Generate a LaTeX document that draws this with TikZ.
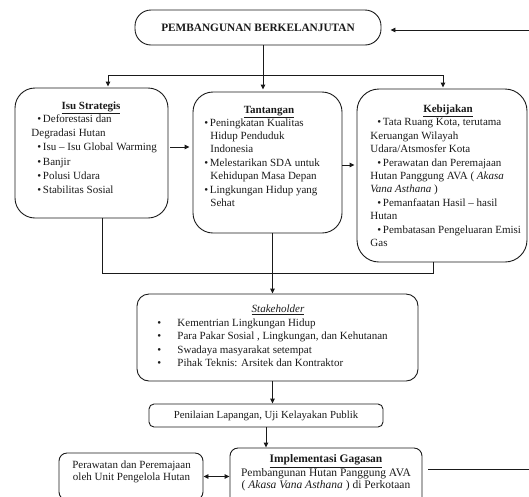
\documentclass[tikz,border=0pt]{standalone}
\usepackage{fontspec}
\setmainfont{Liberation Serif}
\usepackage{xcolor}
\usetikzlibrary{arrows.meta}
\definecolor{garis}{HTML}{1A1A1A}
\newcommand{\bul}[1][5.5pt]{\makebox[#1][l]{\textbullet}}

\tikzset{
  kotak/.style={draw=garis, line width=0.9pt, rounded corners=#1},
  kotak/.default=14pt,
  isi/.style={inner sep=0pt, align=left, anchor=base west, text=garis},
  judul/.style={inner sep=0pt, anchor=base, text=garis, font=\fontsize{11}{13}\selectfont\bfseries},
}

\begin{document}
\begin{tikzpicture}[x=1pt, y=-1pt, line width=0.9pt, >={Triangle[length=5pt,width=4.5pt]}]
  \clip (0,0) rectangle (529,496);

  % kotak-kotak
  \node[kotak=16pt, minimum width=246pt, minimum height=35pt] (pemb) at (258,27.5) {};
  \node[kotak=20pt, minimum width=153pt, minimum height=130pt] (isu) at (91.5,153) {};
  \node[kotak=20pt, minimum width=149pt, minimum height=141pt] (tant) at (267.5,162.5) {};
  \node[kotak=22pt, minimum width=170pt, minimum height=173pt] (kebij) at (442,175.5) {};
  \node[kotak=12pt, minimum width=281pt, minimum height=87pt] (stake) at (277.5,337.5) {};
  \node[kotak=5pt, minimum width=234pt, minimum height=23pt] (nilai) at (266,415.5) {};
  \node[kotak=8pt, minimum width=192pt, minimum height=57pt] (impl) at (326,476.5) {};
  \node[kotak=8pt, minimum width=144pt, minimum height=47pt] (rawat) at (131,476.5) {};

  % teks (base = baris terakhir)
  \node[inner sep=0pt, text=garis, font=\fontsize{11.3}{13}\selectfont\bfseries] (pembT) at (258,27.5) {PEMBANGUNAN BERKELANJUTAN};

  \node[judul] (isuJ) at (91,109.5) {\underline{Isu Strategis}};
  \node[isi, font=\fontsize{11}{14.2}\selectfont] (isuL) at (31,193.5) {%
    \hspace*{6pt}\bul Deforestasi dan\\
    Degradasi Hutan\\
    \hspace*{6pt}\bul Isu -- Isu Global Warming\\
    \hspace*{6pt}\bul Banjir\\
    \hspace*{6pt}\bul Polusi Udara\\
    \hspace*{6pt}\bul Stabilitas Sosial};

  \node[judul] (tantJ) at (269,113.5) {\underline{Tantangan}};
  \node[isi, font=\fontsize{11}{13.4}\selectfont] (tantL) at (204,206.5) {%
    \bul Peningkatan Kualitas\\
    \hspace*{6pt}Hidup Penduduk\\
    \hspace*{6pt}Indonesia\\
    \bul Melestarikan SDA untuk\\
    \hspace*{6pt}Kehidupan Masa Depan\\
    \bul Lingkungan Hidup yang\\
    \hspace*{6pt}Sehat};

  \node[judul] (kebijJ) at (448,112.5) {\underline{Kebijakan}};
  \node[isi, font=\fontsize{11}{13.4}\selectfont] (kebijL) at (370,246.5) {%
    \hspace*{7pt}\bul Tata Ruang Kota, terutama\\
    Keruangan Wilayah\\
    Udara/Atsmosfer Kota\\
    \hspace*{7pt}\bul Perawatan dan Peremajaan\\
    Hutan Panggung AVA ( \textit{Akasa}\\
    \textit{Vana Asthana} )\\
    \hspace*{7pt}\bul Pemanfaatan Hasil -- hasil\\
    Hutan\\
    \hspace*{7pt}\bul Pembatasan Pengeluaran Emisi\\
    Gas};

  \node[inner sep=0pt, anchor=base, text=garis, font=\fontsize{11}{13}\selectfont\itshape] (stakeJ) at (278,312.5) {\underline{Stakeholder}};
  \node[isi, font=\fontsize{11}{13.3}\selectfont] (stakeL) at (157,366.5) {%
    \bul[20pt]Kementrian Lingkungan Hidup\\
    \bul[20pt]Para Pakar Sosial , Lingkungan, dan Kehutanan\\
    \bul[20pt]Swadaya masyarakat setempat\\
    \bul[20pt]Pihak Teknis: Arsitek dan Kontraktor};

  \node[inner sep=0pt, text=garis, font=\fontsize{10.8}{12}\selectfont] (nilaiT) at (266,415.5) {Penilaian Lapangan, Uji Kelayakan Publik};

  \node[inner sep=0pt, align=center, text=garis, font=\fontsize{11.5}{12.5}\selectfont] (implT) at (326,473) {%
    \textbf{\underline{Implementasi Gagasan}}\\
    Pembangunan Hutan Panggung AVA\\
    ( \textit{Akasa Vana Asthana} ) di Perkotaan};

  \node[inner sep=0pt, align=center, text=garis, font=\fontsize{11}{12}\selectfont] (rawatT) at (131.5,472) {%
    Perawatan dan Peremajaan\\
    oleh Unit Pengelola Hutan};

  % panah atas
  \coordinate (fbA) at (529,30);
  \coordinate (cab) at (263,75);
  \coordinate (kiri) at (108,75);
  \coordinate (kanan) at (443,75);
  \draw[garis, ->, shorten >=9pt] (fbA) -- (fbA -| pemb.east);
  \draw[garis, ->, shorten >=2pt] (cab |- pemb.south) -- (cab |- tant.north);
  \draw[garis] (kiri) -- (kanan);
  \draw[garis, ->, shorten >=1pt] (kiri) -- (kiri |- isu.north);
  \draw[garis, ->, shorten >=1pt] (kanan) -- (kanan |- kebij.north);

  % panah samping
  \draw[garis, ->, shorten <=2pt, shorten >=3pt] ([yshift=6pt]isu.east) -- ([yshift=15.5pt]tant.west);
  \draw[garis, ->, shorten >=2pt] ([yshift=-2.5pt]tant.east) -- ([yshift=10.5pt]kebij.west);

  % garis bawah
  \coordinate (bkiri) at (102,273);
  \coordinate (bkanan) at (433,273);
  \coordinate (btengah) at (272.5,273);
  \draw[garis] (bkiri |- isu.south) -- (bkiri) -- (bkanan) -- (bkanan |- kebij.south);
  \draw[garis, ->] (btengah |- tant.south) -- (btengah |- stake.north);
  \draw[garis, ->] (btengah |- stake.south) -- (btengah |- nilai.north);
  \draw[garis, ->] (nilai.south) -- (nilai.south |- impl.north);

  % panah implementasi
  \coordinate (fbB) at (529,469);
  \draw[garis, <->] (rawat.east) -- (impl.west);
  \draw[garis, shorten <=6pt] (fbB -| impl.east) -- (fbB);
\end{tikzpicture}
\end{document}
